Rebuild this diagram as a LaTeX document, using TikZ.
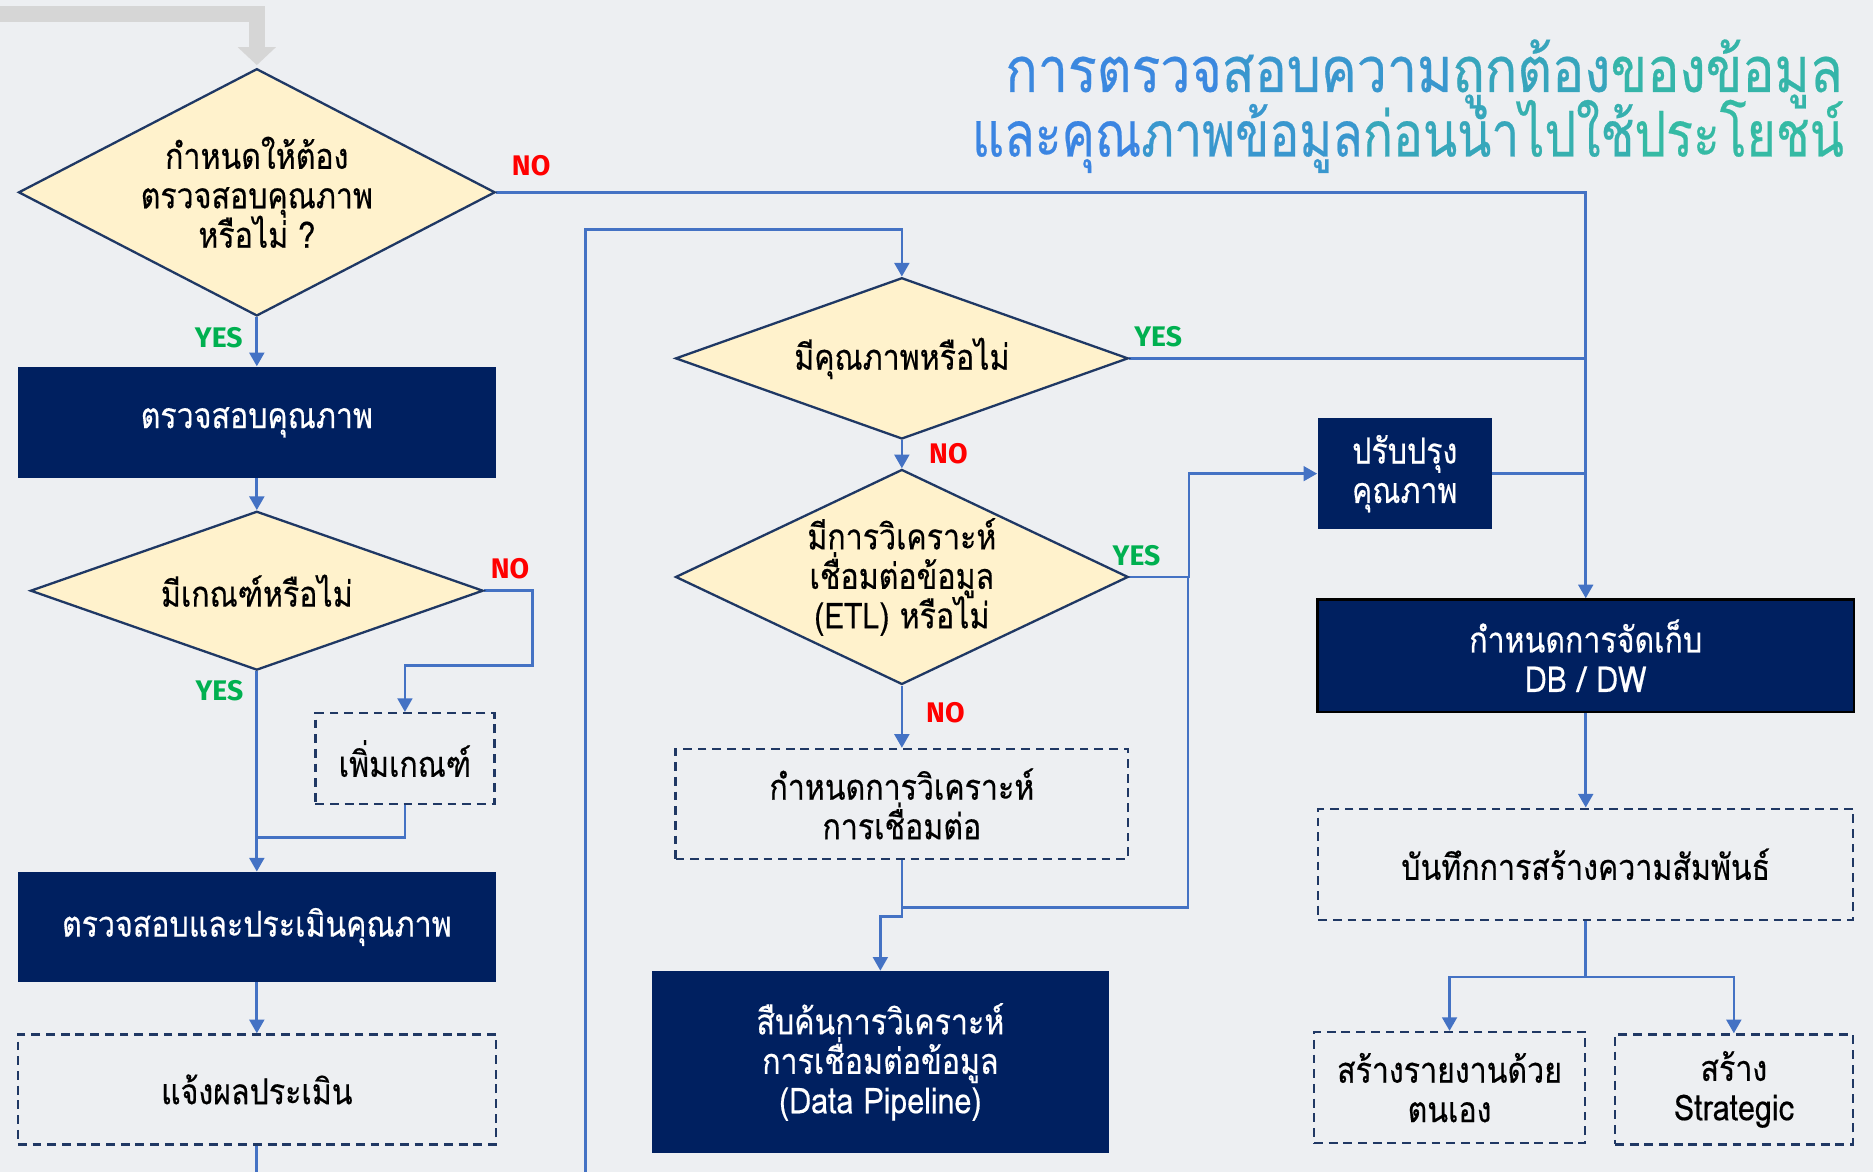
\documentclass[tikz,border=0pt]{standalone}
\usepackage{fontspec}
\usepackage{xcolor}
\usepackage{graphicx}
\usepackage{tikz}
\usetikzlibrary{shapes.geometric, arrows.meta, positioning, calc, backgrounds}
\setmainfont[Script=Thai, FakeStretch=0.85, FakeBold=0.4]{Loma}
\newfontfamily\lblfont{Fira Sans}
\pgfdeclarelayer{arrows}
\pgfsetlayers{background,arrows,main}
\definecolor{pagebg}{HTML}{EDEFF2}
\definecolor{navybox}{HTML}{002060}
\definecolor{decfill}{HTML}{FFF2CC}
\definecolor{decline}{HTML}{1F3864}
\definecolor{dashnavy}{HTML}{203864}
\definecolor{linkblue}{HTML}{4472C4}
\definecolor{yesgreen}{HTML}{00B050}
\definecolor{nored}{HTML}{FF0000}
\definecolor{entrygray}{HTML}{D6D6D6}
\definecolor{tblue}{HTML}{3C7FEA}
\definecolor{tteal}{HTML}{34BF9E}
\newcommand{\BoxFont}{\fontsize{17}{18.8}\selectfont\lineskiplimit=-20pt\relax}
\tikzset{
  proc/.style={rectangle, fill=navybox, text=white,
    font=\BoxFont, align=center, inner sep=0pt},
  proc/store/.style={proc, draw=black, line width=1.3pt},
  dec/.style={diamond, draw=decline, line width=1.1pt, fill=decfill,
    font=\BoxFont, align=center, inner sep=0pt},
  docn/.style={rectangle, draw=dashnavy, line width=1.1pt, dash pattern=on 4.2pt off 2.8pt,
    font=\BoxFont, align=center, inner sep=0pt},
  ar/.style={-{Triangle[width=7pt,length=6.5pt]}, draw=linkblue, line width=1.3pt},
  ln/.style={draw=linkblue, line width=1.3pt},
  entry/.style={-{Triangle[width=0.62cm,length=0.3cm]}, draw=entrygray, line width=0.26cm, shorten >=0.04cm},
  lbyes/.style={font=\lblfont\bfseries\fontsize{13.5}{14}\selectfont, text=yesgreen, inner sep=1pt},
  lbno/.style={font=\lblfont\bfseries\fontsize{13.5}{14}\selectfont, text=nored, inner sep=1pt},
  ttl/.style={font=\fontsize{30}{32}\selectfont, inner sep=0pt},
}
\newcommand{\TT}[2]{{\color{tteal!#1!tblue}#2}}

\begin{document}
\begin{tikzpicture}
\useasboundingbox (0,0) rectangle (31.36,-19.62);

%% ===== NODES =====
% -- title --
\node[ttl, anchor=base east] (TT1) at (30.86,-1.54) {\resizebox{14.02cm}{\height}{\TT{14}{การตรวจ}\TT{37}{สอบความ}\TT{60}{ถูกต้อง}\TT{85}{ของข้อมูล}}};
\node[ttl, anchor=base east] (TT2) at (30.88,-2.62) {\resizebox{14.60cm}{\height}{\TT{10}{และคุณ}\TT{37}{ภาพข้อมูล}\TT{62}{ก่อนนำ}\TT{77}{ไปใช้}\TT{92}{ประโยชน์}}};

% -- left column: quality check --
\node[dec, aspect=1.93, minimum width=7.98cm, minimum height=4.14cm] (D1) at (4.30,-3.22) {กำหนดให้ต้อง\\ตรวจสอบคุณภาพ\\หรือไม่ ?};
\node[proc, minimum width=8.00cm, minimum height=1.86cm] (B1) at (4.30,-7.07) {ตรวจสอบคุณภาพ};
\node[dec, aspect=2.85, minimum width=7.58cm, minimum height=2.66cm] (D2) at (4.30,-9.89) {มีเกณฑ์หรือไม่};
\node[docn, minimum width=3.00cm, minimum height=1.52cm] (ADD) at (6.78,-12.70) {เพิ่มเกณฑ์};
\node[proc, minimum width=8.00cm, minimum height=1.84cm] (B2) at (4.30,-15.52) {ตรวจสอบและประเมินคุณภาพ};
\node[docn, minimum width=8.00cm, minimum height=1.84cm] (REP) at (4.30,-18.24) {แจ้งผลประเมิน};

% -- middle column: ETL --
\node[dec, aspect=2.81, minimum width=7.58cm, minimum height=2.70cm] (D3) at (15.10,-6.00) {มีคุณภาพหรือไม่};
\node[dec, aspect=2.1, minimum width=7.58cm, minimum height=3.60cm] (D4) at (15.10,-9.66) {มีการวิเคราะห์\\เชื่อมต่อข้อมูล\\(ETL) หรือไม่};
\node[docn, minimum width=7.58cm, minimum height=1.84cm] (ANL) at (15.10,-13.46) {กำหนดการวิเคราะห์\\การเชื่อมต่อ};
\node[proc, minimum width=7.64cm, minimum height=3.04cm] (PIPE) at (14.74,-17.78) {สืบค้นการวิเคราะห์\\การเชื่อมต่อข้อมูล\\(Data Pipeline)};

% -- right column: storage --
\node[proc, minimum width=2.92cm, minimum height=1.86cm] (IMP) at (23.52,-7.93) {ปรับปรุง\\คุณภาพ};
\node[proc/store, minimum width=8.98cm, minimum height=1.88cm] (STORE) at (26.55,-10.98) {กำหนดการจัดเก็บ\\DB / DW};
\node[docn, minimum width=8.96cm, minimum height=1.86cm] (REL) at (26.55,-14.47) {บันทึกการสร้างความสัมพันธ์};
\node[docn, minimum width=4.54cm, minimum height=1.86cm] (SELF) at (24.27,-18.21) {สร้างรายงานด้วย\\ตนเอง};
\node[docn, minimum width=3.98cm, minimum height=1.84cm] (STRAT) at (29.03,-18.24) {สร้าง\\Strategic};

\coordinate (IN) at (-0.3,-0.23);
\coordinate (LOOPIN) at (9.80,-19.70);
\coordinate (OUT) at (4.30,-19.70);

\begin{scope}[on background layer]
  \fill[pagebg] (0,0) rectangle (31.36,-19.62);
\end{scope}

\begin{pgfonlayer}{arrows}
\draw[entry] (IN) -| (D1.north);
\draw[ar] (D1.south) -- node[lbyes, pos=0.62, anchor=base east, xshift=-0.18cm] (Y1) {YES} (B1.north);
\draw[ar] (D1.east) -| node[lbno, pos=0.016, anchor=base, yshift=0.28cm] (N1) {NO} (STORE.north);
\draw[ar] (B1.south) -- (D2.north);
\draw[ar] (D2.east) -- node[lbno, pos=0.53, anchor=base, yshift=0.21cm] (N2) {NO} ++(0.81,0) -- ++(0,-1.25) -| (ADD.north);
\draw[ar] (D2.south) -- node[lbyes, pos=0.148, anchor=base east, xshift=-0.17cm] (Y2) {YES} (B2.north);
\draw[ln] (ADD.south) -- ++(0,-0.54) -- ++(-2.48,0);
\draw[ar] (B2.south) -- (REP.north);
\draw[ln] (REP.south) -- (OUT);
\draw[ar] (LOOPIN) -- ++(0,15.86) -| (D3.north);
\draw[ln] (D3.east) -- node[lbyes, pos=0.063, anchor=base, yshift=0.20cm] (Y3) {YES} (D3.east -| STORE.north);
\draw[ar] (D3.south) -- node[lbno, pos=0.84, anchor=base west, xshift=0.40cm] (N3) {NO} (D4.north);
\draw[ar] (D4.east) -- node[lbyes, pos=0.12, anchor=base, yshift=0.2cm] (Y4) {YES} ++(1.0,0) |- (IMP.west);
\draw[ar] (D4.south) -- node[lbno, pos=0.59, anchor=base west, xshift=0.35cm] (N4) {NO} (ANL.north);
\draw[ln] (ANL.south) -- ++(0,-0.80) -- ++(4.79,0) -- ++(0,5.52);
\draw[ar] (ANL.south) -- ++(0,-0.94) -| (PIPE.north);
\draw[ln] (IMP.east) -- (IMP.east -| STORE.north);
\draw[ar] (STORE.south) -- (REL.north);
\draw[ar] (REL.south) -- ++(0,-0.94) -| (SELF.north);
\draw[ar] (REL.south) -- ++(0,-0.94) -| (STRAT.north);
\end{pgfonlayer}
\end{tikzpicture}
\end{document}
